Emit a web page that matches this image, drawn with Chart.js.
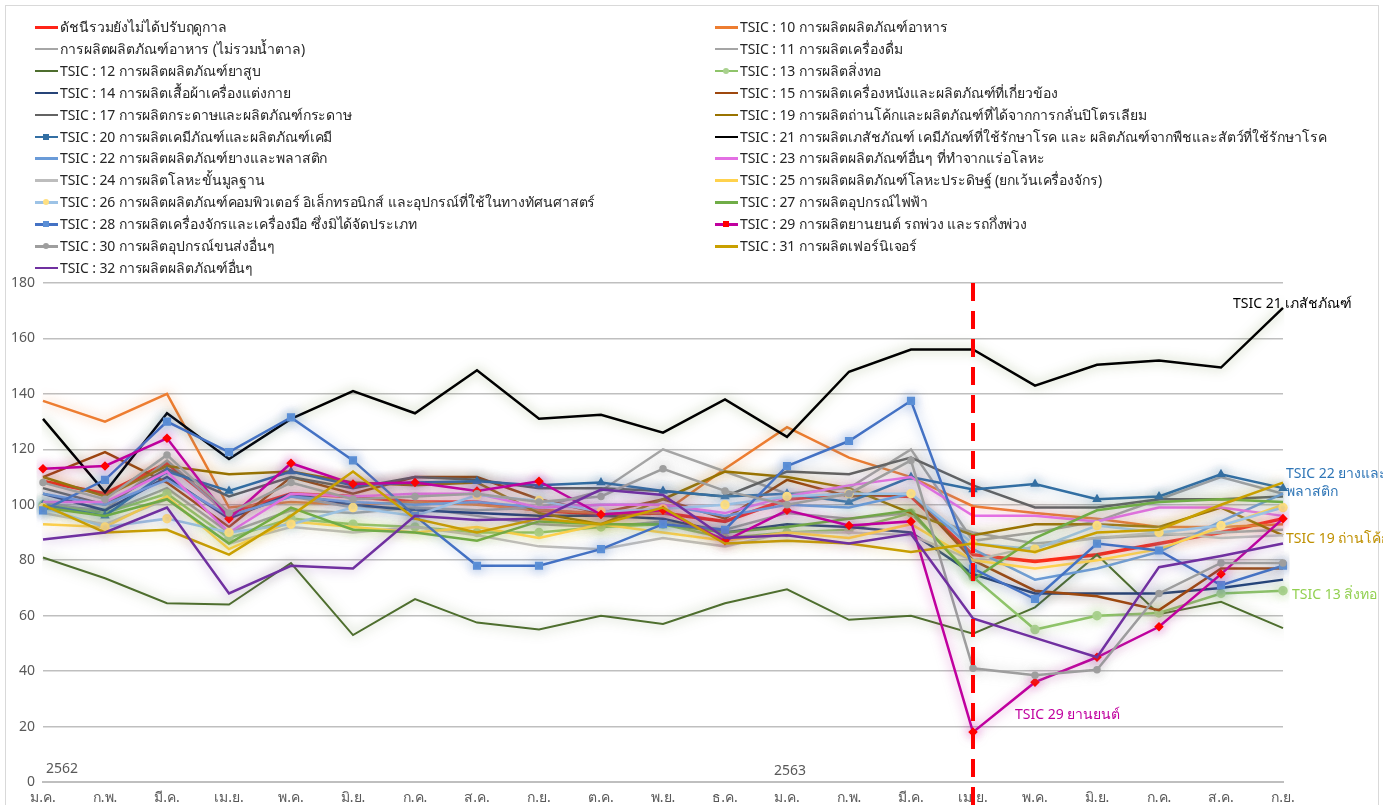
<!DOCTYPE html>
<html>
<head>
<meta charset="utf-8">
<script src="https://cdn.jsdelivr.net/npm/chart.js@4.4.1/dist/chart.umd.min.js"></script>
<style>
  body{margin:0;background:#fff;font-family:Tahoma,"Noto Sans","DejaVu Sans",sans-serif;}
  #wrap{position:relative;width:1383px;height:805px;overflow:hidden;}
  #frame{position:absolute;left:5px;top:5px;width:1372px;height:820px;border:1px solid #d9d9d9;}
  #legend{position:absolute;left:0;top:0;width:1383px;height:280px;}
  .li{position:absolute;font-size:14px;color:#262626;white-space:nowrap;line-height:18px;letter-spacing:-0.1px;}
  .sw{position:absolute;width:23px;top:8px;}
  .mk{position:absolute;top:-2px;left:8px;width:6px;height:6px;}
  canvas{position:absolute;left:0;top:0;}
</style>
</head>
<body>
<div id="wrap">
  <div id="frame"></div>
  <canvas id="grafica" width="1383" height="805"></canvas>
  <div id="legend"></div>
</div>
<script>
// ---- datos
var meses = ['ม.ค.','ก.พ.','มี.ค.','เม.ย.','พ.ค.','มิ.ย.','ก.ค.','ส.ค.','ก.ย.','ต.ค.','พ.ย.','ธ.ค.',
             'ม.ค.','ก.พ.','มี.ค.','เม.ย.','พ.ค.','มิ.ย.','ก.ค.','ส.ค.','ก.ย.'];
var ticksY = [0,20,40,60,80,100,120,140,160,180];

var dRaw   = [108.5,104,115,97,104,103,101,101,98,96.5,97,94,102,104,103,82,79.5,82,86,90,95];
var dAhar  = [101,97,106,90,98,97,99,96,93,92,94,91,97,95,97,90,86,88,89,90,91];
var d10 = [137.5,130,140,99,101,100,101,100,98,97,97,113,128,117,110,99.5,97,95,92,92,93];
var d11 = [100,98,116,96,103,99,99,98,99,105,120,112,104,106,120,87,90,94,102,110,104];
var d12 = [81,73.5,64.5,64,79,53,66,57.5,55,60,57,64.5,69.5,58.5,60,53.5,63,82,60.5,65,55.5];
var d13 = [100,97,104,88,95,93,92,90,90,92,93,88,90,91,97,74,55,60,61,68,69];
var d14 = [104,98,110,95,104,100,98,97,96,96,95,90,93,92,90,75,68,68,68,70,73];
var d15 = [110,119,108,92,110,104,110,110,102,97,102,95,109,103,104,80,69,67,62,77,77];
var d17 = [106,100,113,103,110,106,110,109,106,106,105,103,112,111,117,107,99,99,102,102,103];
var d19 = [110,103,114,111,112,108,107,108,97,93,102,112,110,106,97,89,93,93,92,99,89];
var d20 = [100,96,112,105,112,107,108,108.5,107,108,105,103,104,101,110,105.5,107.5,102,103,111,106];
var d21 = [131,104.5,133,116.5,131,141,133,148.5,131,132.5,126,138,124.5,148,156,156,143,150.5,152,149.5,171];
var d22 = [104,100,109,96,103,101,100,101,99,100,100,96,100,99,104,84,73,77,83,94,104];
var d23 = [101,101,112,90,104,103,104,104,99,100,100,97,103,107,110,96,96,94,99,99,96];
var d24 = [97,93,102,86,92,90,92,89,85,84,88,85,90,90,89,80,85,88,90,88,89];
var d25 = [93,92,103,84,94,92,90,92,88,93,90,87,90,88,93,80,77,80,84,92,100];
var d26 = [99,92,95,90,93,99,96,103.5,101.5,97.5,98.5,100,103,104,104,86,84,92.5,90,92.5,99];
var d27 = [99,96,102,86,99,91,90,87,94,93,93,90,92,95,98,73,88,98,101,102,101];
var d28 = [98,109,130,119,131.5,116,96,78,78,84,93,91,114,123,137.5,77,66,86,83.5,71,78];
var d29 = [113,114,124,95,115,107.5,108,105,108.5,96.5,98,87,98,92.5,94,18,36,45,56,75,95];
var d30 = [108,102,118,97,108,102,103,104,101,103,113,105,100,104,116,41,38.5,40.5,68,79,79];
var d31 = [100,90,91,82,96,112,95,90,95,93,99,86,87,86,83,86,83,90,91,100,108];
var d32 = [87.5,90,99,68,78,77,96,94.5,95,105.5,103.5,88,89,86,89.5,59,52,45,77.5,81.5,86];

var nombres = [
  'ดัชนีรวมยังไม่ได้ปรับฤดูกาล','TSIC : 10 การผลิตผลิตภัณฑ์อาหาร',
  'การผลิตผลิตภัณฑ์อาหาร (ไม่รวมน้ำตาล)','TSIC : 11 การผลิตเครื่องดื่ม',
  'TSIC : 12 การผลิตผลิตภัณฑ์ยาสูบ','TSIC : 13 การผลิตสิ่งทอ',
  'TSIC : 14 การผลิตเสื้อผ้าเครื่องแต่งกาย','TSIC : 15 การผลิตเครื่องหนังและผลิตภัณฑ์ที่เกี่ยวข้อง',
  'TSIC : 17 การผลิตกระดาษและผลิตภัณฑ์กระดาษ','TSIC : 19 การผลิตถ่านโค้กและผลิตภัณฑ์ที่ได้จากการกลั่นปิโตรเลียม',
  'TSIC : 20 การผลิตเคมีภัณฑ์และผลิตภัณฑ์เคมี','TSIC : 21 การผลิตเภสัชภัณฑ์ เคมีภัณฑ์ที่ใช้รักษาโรค และ ผลิตภัณฑ์จากพืชและสัตว์ที่ใช้รักษาโรค',
  'TSIC : 22 การผลิตผลิตภัณฑ์ยางและพลาสติก','TSIC : 23 การผลิตผลิตภัณฑ์อื่นๆ ที่ทำจากแร่อโลหะ',
  'TSIC : 24 การผลิตโลหะขั้นมูลฐาน','TSIC : 25 การผลิตผลิตภัณฑ์โลหะประดิษฐ์ (ยกเว้นเครื่องจักร)',
  'TSIC : 26 การผลิตผลิตภัณฑ์คอมพิวเตอร์ อิเล็กทรอนิกส์ และอุปกรณ์ที่ใช้ในทางทัศนศาสตร์','TSIC : 27 การผลิตอุปกรณ์ไฟฟ้า',
  'TSIC : 28 การผลิตเครื่องจักรและเครื่องมือ ซึ่งมิได้จัดประเภท','TSIC : 29 การผลิตยานยนต์ รถพ่วง และรถกึ่งพ่วง',
  'TSIC : 30 การผลิตอุปกรณ์ขนส่งอื่นๆ','TSIC : 31 การผลิตเฟอร์นิเจอร์',
  'TSIC : 32 การผลิตผลิตภัณฑ์อื่นๆ'
];
var valores = [dRaw,d10,dAhar,d11,d12,d13,d14,d15,d17,d19,d20,d21,d22,d23,d24,d25,d26,d27,d28,d29,d30,d31,d32];
var colores = ['#ff2418','#ed7d31','#a6a6a6','#a5a5a5','#4e6e2e','#8fc46a','#264478','#9e480e','#636363','#997300',
               '#336fa3','#000000','#6a9bd8','#e36fe3','#bdbdbd','#ffd24d','#9dc3e6','#70ad47','#4472c4','#c0009f',
               '#9e9e9e','#c9a000','#7030a0'];
var marcas = {5:['circle','#a9d18e',3.5],10:['triangle','#336fa3',3],16:['circle','#ffe082',3.5],
              18:['rect','#5b8fd6',4],19:['rectRot','#ff0000',3],20:['circle','#9e9e9e',2.5]};

function hexA(h,a){
  var n=parseInt(h.slice(1),16);
  return 'rgba('+(n>>16)+','+((n>>8)&255)+','+(n&255)+','+a+')';
}

// excel pinta la primera serie debajo: order alto = se dibuja antes
var datasets = valores.map(function(v,i){
  var m = marcas[i];
  return {
    label: nombres[i], data: v, order: valores.length - i,
    borderColor: colores[i], backgroundColor: colores[i],
    borderWidth: (i==0?3.5:(i==4?2:2.5)),
    pointStyle: m?m[0]:'circle', pointRadius: m?m[2]:0,
    pointBackgroundColor: m?m[1]:colores[i], pointBorderColor: m?m[1]:colores[i],
    tension: 0, fill: false,
    glow: i==11 ? 'rgba(90,120,40,0.55)' : hexA(colores[i],0.55)
  };
});

// ---- leyenda en html (2 columnas)
var leg = document.getElementById('legend');
nombres.forEach(function(n,i){
  var col = i%2, row = Math.floor(i/2);
  var d = document.createElement('div');
  d.className='li';
  d.style.left = (col?715:35)+'px';
  d.style.top = (18+row*21.9)+'px';
  d.style.paddingLeft='25px';
  var m = marcas[i];
  d.innerHTML = '<span class="sw" style="left:0;height:'+(i==0?3:2.5)+'px;background:'+colores[i]+'">'+
    (m?'<span class="mk" style="background:'+m[1]+';border-radius:'+(m[0]=='circle'?'50%':'0')+'"></span>':'')+
    '</span>'+n;
  leg.appendChild(d);
});

// ---- plugins
var pluginBrillo = {
  id:'brillo',
  beforeDatasetDraw:function(chart,args){
    var ctx=chart.ctx; ctx.save();
    ctx.shadowColor = args.meta._dataset.glow;
    ctx.shadowBlur = 12;
  },
  afterDatasetDraw:function(chart){ chart.ctx.restore(); }
};
var pluginNotas = {
  id:'notas',
  afterDatasetsDraw:function(chart){
    var ctx=chart.ctx, x=chart.scales.x, y=chart.scales.y, a=chart.chartArea;
    // linea discontinua en เม.ย. 2563
    var xl = x.getPixelForValue(15);
    ctx.save();
    ctx.strokeStyle='#ff0000'; ctx.lineWidth=4; ctx.setLineDash([18,10]);
    ctx.beginPath(); ctx.moveTo(xl,a.top); ctx.lineTo(xl,chart.height); ctx.stroke();
    ctx.restore();
    ctx.save();
    ctx.font='14px Tahoma,"Noto Sans","DejaVu Sans",sans-serif';
    ctx.textBaseline='middle';
    ctx.fillStyle='#595959';
    ctx.fillText('2562', x.getPixelForValue(0)+3, y.getPixelForValue(4.7));
    ctx.fillText('2563', x.getPixelForValue(12)-13, y.getPixelForValue(4));
    var xr = x.getPixelForValue(20);
    ctx.fillStyle='#000'; ctx.fillText('TSIC 21 เภสัชภัณฑ์', xr-50, y.getPixelForValue(172.5));
    ctx.fillStyle='#2e75b6';
    ctx.fillText('TSIC 22 ยางและ', xr+3, y.getPixelForValue(111));
    ctx.fillText('พลาสติก', xr+3, y.getPixelForValue(104.5));
    ctx.fillStyle='#bf9000'; ctx.fillText('TSIC 19 ถ่านโค้ก', xr+3, y.getPixelForValue(87.5));
    ctx.fillStyle='#92d050'; ctx.fillText('TSIC 13 สิ่งทอ', xr+9, y.getPixelForValue(67.5));
    ctx.fillStyle='#c0009f'; ctx.fillText('TSIC 29 ยานยนต์', x.getPixelForValue(15)+42, y.getPixelForValue(24));
    ctx.restore();
  }
};

var ctx = document.getElementById('grafica').getContext('2d');
var chart = new Chart(ctx,{
  type:'line',
  data:{labels:meses, datasets:datasets},
  options:{
    responsive:false, animation:false,
    layout:{padding:{top:283,left:5,right:100,bottom:0}},
    plugins:{legend:{display:false}, tooltip:{enabled:false}},
    scales:{
      x:{
        offset:false,
        grid:{display:false, drawTicks:false},
        border:{display:true,color:'#bfbfbf',width:2},
        ticks:{color:'#595959',font:{size:14,family:'Tahoma,"Noto Sans","DejaVu Sans",sans-serif'},maxRotation:0,autoSkip:false,padding:8},
        afterFit:function(s){ s.height=23; }
      },
      y:{
        min:0,max:180,
        afterBuildTicks:function(s){ s.ticks = ticksY.map(function(v){return {value:v};}); },
        grid:{color:'#bfbfbf',lineWidth:1.5,drawTicks:false},
        border:{display:false},
        ticks:{color:'#595959',font:{size:14,family:'Tahoma,"Noto Sans","DejaVu Sans",sans-serif'},padding:8},
        afterFit:function(s){ s.width=38; }
      }
    }
  },
  plugins:[pluginBrillo,pluginNotas]
});
</script>
</body>
</html>
